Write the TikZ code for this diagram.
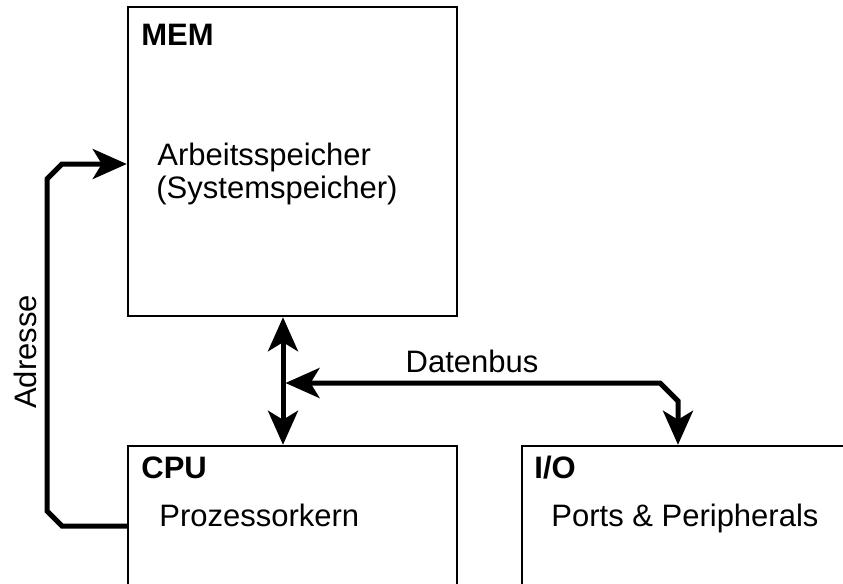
\documentclass[tikz,border=0pt]{standalone}
\usepackage{fontspec}
\setmainfont{Liberation Sans}
\usetikzlibrary{arrows.meta}
\tikzset{
  >={Stealth[length=17pt,width=15pt,inset=4.5pt]},
  box/.style={draw,line width=1.25pt,inner sep=0,minimum width=164.5pt},
  title/.style={anchor=base west,font=\fontsize{15.5}{17}\selectfont\bfseries,inner sep=0},
  txt/.style={anchor=base west,inner sep=0},
  bus/.style={line width=2.5pt},
  lbl/.style={inner sep=0}
}

\begin{document}
\begin{tikzpicture}[x=0.5pt,y=-0.5pt,font=\fontsize{15.5}{17}\selectfont]
  \clip (0,0) rectangle (843,584);
  % boxes
  \node[box,minimum height=154.5pt] (mem) at (292.5,161.5) {};
  \node[box,minimum height=100pt] (cpu) at (292.5,546) {};
  \node[box,minimum width=190pt,minimum height=100pt] (io) at (712,546) {};

  \node[title] (memt) at (141,45) {MEM};
  \node[txt] (arb) at (157,165) {Arbeitsspeicher};
  \node[txt] (sys) at (156,198) {(Systemspeicher)};

  \node[title] (cput) at (141,478) {CPU};
  \node[txt] (pk) at (159,526) {Prozessorkern};

  \node[title] (iot) at (534,478) {I/O};
  \node[txt] (pp) at (551,526) {Ports \& Peripherals};

  % address
  \draw[bus,->] (cpu.west |- 0,526) -- (62,526) -- (47,511) -- (47,179)
    -- (62,164) -- (mem.west |- 0,164);
  \node[lbl,rotate=90] (adr) at (25,352) {Adresse};

  % data bus
  \coordinate (jn) at (283,383);
  \draw[bus,<->] (mem.south -| jn) -- (cpu.north -| jn);
  \draw[bus,<->,shorten <=1.25pt] (jn) -- (660,383) -- (678,401) -- (io.north -| 678,0);
  \node[lbl] (db) at (472,361) {Datenbus};
\end{tikzpicture}
\end{document}
